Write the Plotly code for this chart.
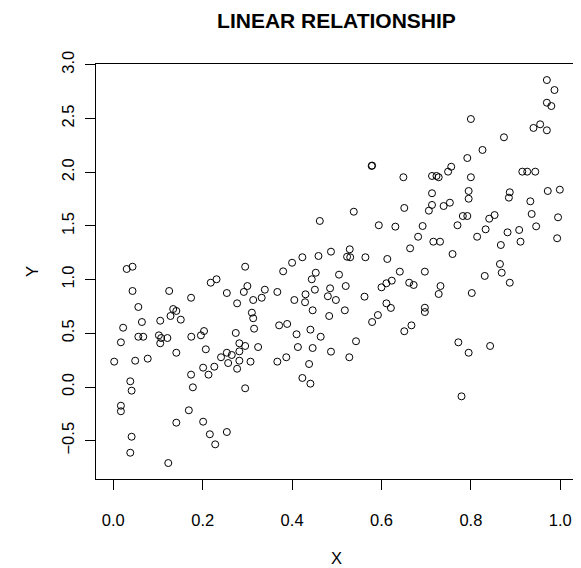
import plotly.graph_objects as go

x_vals = [
    0.030, 0.043, 0.295, 0.043, 0.125, 0.056, 0.064, 0.022, 0.017, 0.002,
    0.056, 0.067, 0.049, 0.077, 0.038, 0.041, 0.017, 0.017, 0.041, 0.038,
    0.123, 0.105, 0.102, 0.107, 0.105, 0.121, 0.128, 0.134, 0.141, 0.151,
    0.141, 0.141, 0.174, 0.1745, 0.174, 0.178, 0.169, 0.196, 0.203, 0.207,
    0.201, 0.213, 0.226, 0.201, 0.216, 0.228, 0.254, 0.218, 0.231, 0.254,
    0.277, 0.292, 0.300, 0.313, 0.310, 0.313, 0.315, 0.332, 0.339, 0.274,
    0.282, 0.295, 0.282, 0.282, 0.277, 0.307, 0.324, 0.254, 0.265, 0.241,
    0.257, 0.295, 0.367, 0.380, 0.400, 0.371, 0.389, 0.367, 0.387, 0.405,
    0.410, 0.413, 0.423, 0.429, 0.430, 0.444, 0.453, 0.446, 0.451, 0.441,
    0.446, 0.438, 0.441, 0.464, 0.505, 0.485, 0.480, 0.498, 0.520, 0.562,
    0.483, 0.518, 0.487, 0.543, 0.528, 0.600, 0.611, 0.623, 0.641, 0.662,
    0.672, 0.611, 0.621, 0.579, 0.592, 0.651, 0.667, 0.697, 0.732, 0.728,
    0.831, 0.869, 0.887, 0.802, 0.697, 0.697, 0.772, 0.795, 0.843, 0.779,
    0.578, 0.579, 0.649, 0.651, 0.538, 0.462, 0.594, 0.631, 0.664, 0.529,
    0.523, 0.530, 0.487, 0.459, 0.423, 0.564, 0.613, 0.970, 0.987, 0.970,
    0.980, 0.800, 0.940, 0.955, 0.970, 0.874, 0.826, 0.792, 0.756, 0.749,
    0.713, 0.723, 0.728, 0.800, 0.915, 0.926, 0.944, 0.713, 0.713, 0.706,
    0.739, 0.753, 0.795, 0.795, 0.887, 0.885, 0.972, 0.999, 0.933, 0.936,
    0.946, 0.995, 0.993, 0.853, 0.841, 0.782, 0.792, 0.770, 0.833, 0.814,
    0.882, 0.908, 0.911, 0.867, 0.692, 0.682, 0.716, 0.731, 0.759, 0.865,
]

y_vals = [
    1.099, 1.120, 1.120, 0.894, 0.894, 0.745, 0.605, 0.552, 0.416, 0.236,
    0.468, 0.468, 0.245, 0.264, 0.053, -0.034, -0.174, -0.226, -0.463, -0.612,
    -0.708, 0.617, 0.481, 0.456, 0.407, 0.456, 0.661, 0.726, 0.708, 0.627,
    0.319, -0.332, 0.831, 0.468, 0.115, -0.003, -0.217, 0.481, 0.521, 0.351,
    0.180, 0.115, 0.189, -0.323, -0.440, -0.534, -0.419, 0.971, 1.003, 0.875,
    0.779, 0.885, 0.940, 0.810, 0.692, 0.640, 0.543, 0.831, 0.906, 0.503,
    0.407, 0.382, 0.332, 0.245, 0.170, 0.236, 0.372, 0.319, 0.298, 0.277,
    0.223, -0.012, 0.885, 1.077, 1.157, 0.574, 0.587, 0.236, 0.277, 0.810,
    0.491, 0.372, 0.084, 0.789, 0.863, 1.003, 1.064, 0.714, 0.906, 0.534,
    0.363, 0.214, 0.031, 0.468, 1.046, 0.919, 0.845, 0.810, 0.940, 0.841,
    0.661, 0.714, 0.329, 0.426, 0.277, 0.928, 0.966, 0.990, 1.074, 0.971,
    0.950, 0.779, 0.736, 0.605, 0.670, 0.519, 0.574, 1.074, 0.940, 0.866,
    1.034, 1.064, 0.971, 0.875, 0.738, 0.698, 0.416, 0.319, 0.382, -0.087,
    2.058, 2.062, 1.953, 1.667, 1.632, 1.546, 1.506, 1.493, 1.291, 1.282,
    1.213, 1.208, 1.260, 1.220, 1.208, 1.208, 1.192, 2.858, 2.765, 2.647,
    2.616, 2.495, 2.412, 2.446, 2.390, 2.325, 2.207, 2.132, 2.051, 2.005,
    1.965, 1.965, 1.953, 1.953, 2.005, 2.005, 2.005, 1.804, 1.695, 1.642,
    1.685, 1.716, 1.825, 1.753, 1.813, 1.763, 1.825, 1.837, 1.729, 1.611,
    1.496, 1.580, 1.385, 1.601, 1.567, 1.592, 1.592, 1.506, 1.468, 1.399,
    1.440, 1.462, 1.353, 1.322, 1.499, 1.399, 1.353, 1.353, 1.238, 1.145,
]

x_ticks = [0.0, 0.2, 0.4, 0.6, 0.8, 1.0]
y_ticks = [-0.5, 0.0, 0.5, 1.0, 1.5, 2.0, 2.5, 3.0]

FONT = "Liberation Sans, Arial, sans-serif"

# The page body has an 8px default margin, so the figure is drawn
# 8px in from the window's top-left corner; size and margins account for it.
W, H = 573, 560

fig = go.Figure(
    go.Scatter(
        x=x_vals,
        y=y_vals,
        mode="markers",
        marker=dict(symbol="circle-open", size=7, color="black",
                    line=dict(width=1, color="black")),
        hoverinfo="x+y",
    )
)

fig.update_layout(
    width=W,
    height=H,
    margin=dict(l=88, r=4, t=56, b=89, autoexpand=False),
    paper_bgcolor="white",
    plot_bgcolor="white",
    showlegend=False,
    font=dict(family=FONT, color="black", size=16),
    title=dict(
        text="<b>LINEAR RELATIONSHIP</b>",
        font=dict(family=FONT, size=21, color="black"),
        x=0.5, xref="paper", xanchor="center",
        y=1 - 13 / H, yref="container", yanchor="middle",
        automargin=False,
    ),
)

fig.update_xaxes(
    range=[-0.0387, 1.0374],
    tickvals=x_ticks,
    tickformat=".1f",
    ticks="outside", ticklen=10, tickwidth=1, tickcolor="black",
    showline=True, mirror=True, linecolor="black", linewidth=1,
    showgrid=False, zeroline=False, automargin=False,
    tickfont=dict(size=16.5),
    ticklabelstandoff=16,
    title=dict(text="X", font=dict(size=16.5), standoff=24),
)

fig.update_yaxes(
    range=[-0.8566, 3.0074],
    tickvals=y_ticks,
    tickformat=".1f",
    tickangle=-90,
    ticks="outside", ticklen=10, tickwidth=1, tickcolor="black",
    showline=True, mirror=True, linecolor="black", linewidth=1,
    showgrid=False, zeroline=False, automargin=False,
    tickfont=dict(size=16.5),
    ticklabelstandoff=4,
    title=dict(text="Y", font=dict(size=16.5), standoff=16),
)

fig.write_html("out.html")
